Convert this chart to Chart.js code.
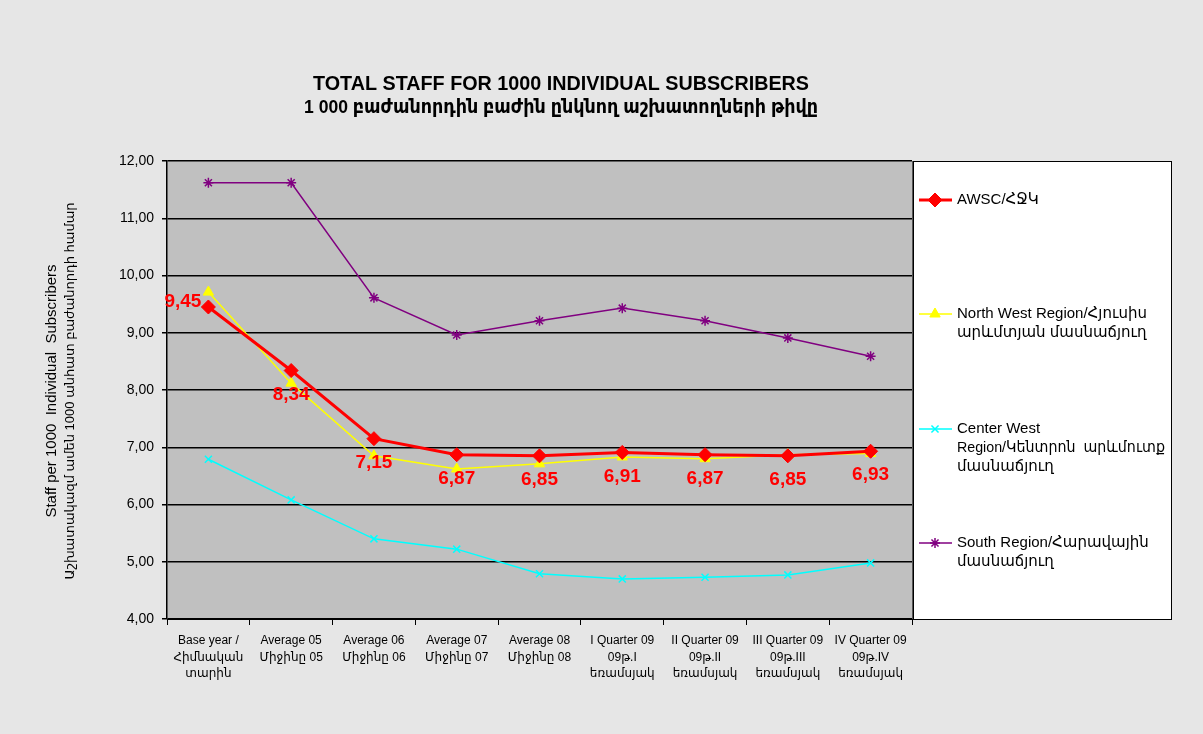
<!DOCTYPE html>
<html>
<head>
<meta charset="utf-8">
<script src="https://cdn.jsdelivr.net/npm/chart.js@4.4.0/dist/chart.umd.min.js"></script>
<style>
  body { margin: 0; background: #e6e6e6; }
  #wrap { width: 1203px; height: 734px; }
</style>
</head>
<body>
<div id="wrap"><canvas id="chart" width="1203" height="734"></canvas></div>
<script>
const categories = [
    ['Base year /', 'Հիմնական', 'տարին'],
    ['Average 05', 'Միջինը 05'],
    ['Average 06', 'Միջինը 06'],
    ['Average 07', 'Միջինը 07'],
    ['Average 08', 'Միջինը 08'],
    ['I Quarter 09', '09թ.I', 'եռամսյակ'],
    ['II Quarter 09', '09թ.II', 'եռամսյակ'],
    ['III Quarter 09', '09թ.III', 'եռամսյակ'],
    ['IV Quarter 09', '09թ.IV', 'եռամսյակ']
];
const awsc = [9.45, 8.34, 7.15, 6.87, 6.85, 6.91, 6.87, 6.85, 6.93];
const northWest = [9.71, 8.12, 6.85, 6.62, 6.71, 6.83, 6.80, 6.87, 6.89];
const centerWest = [6.79, 6.08, 5.40, 5.22, 4.79, 4.70, 4.73, 4.77, 4.98];
const south = [11.62, 11.62, 9.61, 8.96, 9.21, 9.43, 9.21, 8.91, 8.59];
const legendLabels = [
    ['AWSC/ՀՋԿ'],
    ['North West Region/Հյուսիս', 'արևմտյան մասնաճյուղ'],
    ['Center West', 'Region/Կենտրոն  արևմուտք', 'մասնաճյուղ'],
    ['South Region/Հարավային', 'մասնաճյուղ']
];
const titleLines = ['TOTAL STAFF FOR 1000 INDIVIDUAL SUBSCRIBERS', '1 000 բաժանորդին բաժին ընկնող աշխատողների թիվը'];
const yTitle = ['Staff per 1000  Individual  Subscribers', 'Աշխատակազմ ամեն 1000 անհատ բաժանորդի համար'];

const FONT = "'Liberation Sans', 'DejaVu Sans', Arial, sans-serif";

// background, plot area, titles, legend box, value labels
const decor = {
    id: 'decor',
    beforeDraw(chart) {
        let ctx = chart.ctx;
        let a = chart.chartArea;
        ctx.save();
        ctx.fillStyle = '#e6e6e6';
        ctx.fillRect(0, 0, chart.width, chart.height);
        ctx.fillStyle = '#c0c0c0';
        ctx.fillRect(a.left, a.top, a.right - a.left, a.bottom - a.top);
        ctx.strokeStyle = '#555';
        ctx.lineWidth = 1;
        ctx.beginPath();
        ctx.moveTo(a.right + 0.5, a.top);
        ctx.lineTo(a.right + 0.5, a.bottom);
        ctx.stroke();
        ctx.restore();
    },
    afterDraw(chart) {
        let ctx = chart.ctx;
        let a = chart.chartArea;
        ctx.save();
        // title
        ctx.fillStyle = '#000';
        ctx.textAlign = 'center';
        ctx.textBaseline = 'middle';
        ctx.font = "bold 20px " + FONT;
        ctx.fillText(titleLines[0], 561, 84, 496);
        ctx.font = "bold 19px " + FONT;
        ctx.fillText(titleLines[1], 561, 108, 514);
        // y axis title
        ctx.save();
        ctx.translate(52, (a.top + a.bottom) / 2 + 1);
        ctx.rotate(-Math.PI / 2);
        ctx.font = "15px " + FONT;
        ctx.fillText(yTitle[0], 0, 0);
        ctx.font = "13px " + FONT;
        ctx.fillText(yTitle[1], 0, 18);
        ctx.restore();
        // legend box
        let lx = a.right + 1, ly = a.top, lw = 258, lh = a.bottom - a.top;
        ctx.fillStyle = '#fff';
        ctx.fillRect(lx, ly, lw, lh);
        ctx.strokeStyle = '#000';
        ctx.lineWidth = 1;
        ctx.strokeRect(lx + 0.5, ly + 0.5, lw, lh);
        let rows = [200, 314, 429, 543];
        ctx.font = "15px " + FONT;
        ctx.textAlign = 'left';
        chart.data.datasets.forEach((ds, i) => {
            let y = rows[i];
            ctx.strokeStyle = ds.borderColor;
            ctx.fillStyle = ds.backgroundColor;
            ctx.lineWidth = ds.borderWidth;
            ctx.beginPath();
            ctx.moveTo(lx + 6, y);
            ctx.lineTo(lx + 39, y);
            ctx.stroke();
            ctx.lineWidth = ds.pointBorderWidth || 1;
            Chart.helpers.drawPoint(ctx, {
                pointStyle: ds.pointStyle,
                radius: ds.pointRadius,
                borderWidth: ds.pointBorderWidth || 1
            }, lx + 22, y);
            ctx.fillStyle = '#000';
            legendLabels[i].forEach((t, k) => {
                ctx.fillText(t, lx + 44, y + k * 19, 208);
            });
        });
        // value labels for AWSC
        let meta = chart.getDatasetMeta(0);
        ctx.fillStyle = '#ff0000';
        ctx.font = "bold 19px " + FONT;
        meta.data.forEach((pt, i) => {
            let txt = awsc[i].toFixed(2).replace('.', ',');
            if (i === 0) {
                ctx.textAlign = 'right';
                ctx.fillText(txt, pt.x - 7, pt.y - 5);
            } else {
                ctx.textAlign = 'center';
                ctx.fillText(txt, pt.x, pt.y + 24);
            }
        });
        ctx.restore();
    }
};

new Chart(document.getElementById('chart'), {
    type: 'line',
    data: {
        labels: categories,
        datasets: [
            {
                label: 'AWSC/ՀՋԿ',
                data: awsc,
                borderColor: '#ff0000',
                backgroundColor: '#ff0000',
                borderWidth: 3,
                pointStyle: 'rectRot',
                pointRadius: 7,
                pointBorderWidth: 1,
                order: 0
            },
            {
                label: 'North West Region',
                data: northWest,
                borderColor: '#ffff00',
                backgroundColor: '#ffff00',
                borderWidth: 1.5,
                pointStyle: 'triangle',
                pointRadius: 6,
                pointBorderWidth: 1,
                order: 1
            },
            {
                label: 'Center West Region',
                data: centerWest,
                borderColor: '#00ffff',
                backgroundColor: '#00ffff',
                borderWidth: 1.5,
                pointStyle: 'crossRot',
                pointRadius: 5,
                pointBorderWidth: 1.5,
                order: 2
            },
            {
                label: 'South Region',
                data: south,
                borderColor: '#800080',
                backgroundColor: '#800080',
                borderWidth: 1.5,
                pointStyle: 'star',
                pointRadius: 5,
                pointBorderWidth: 1.5,
                order: 3
            }
        ]
    },
    options: {
        responsive: false,
        animation: false,
        layout: { padding: { top: 161, right: 291, left: 0, bottom: 0 } },
        plugins: {
            legend: { display: false },
            title: { display: false },
            tooltip: { enabled: false }
        },
        scales: {
            x: {
                offset: true,
                grid: { drawOnChartArea: false, offset: true, color: '#000', tickLength: 6, lineWidth: 1 },
                border: { color: '#000', width: 1 },
                ticks: { color: '#000', font: { family: FONT, size: 12, lineHeight: 1.4 }, maxRotation: 0, autoSkip: false, padding: 7 },
                afterFit(scale) { scale.height = 115; }
            },
            y: {
                min: 4,
                max: 12,
                ticks: {
                    stepSize: 1,
                    color: '#000',
                    font: { family: FONT, size: 14 },
                    padding: 8,
                    callback: v => v.toFixed(2).replace('.', ',')
                },
                grid: { color: '#000', lineWidth: 1.5, tickLength: 5 },
                border: { color: '#000', width: 1.5 },
                afterFit(scale) { scale.width = 167; }
            }
        }
    },
    plugins: [decor]
});
</script>
</body>
</html>
